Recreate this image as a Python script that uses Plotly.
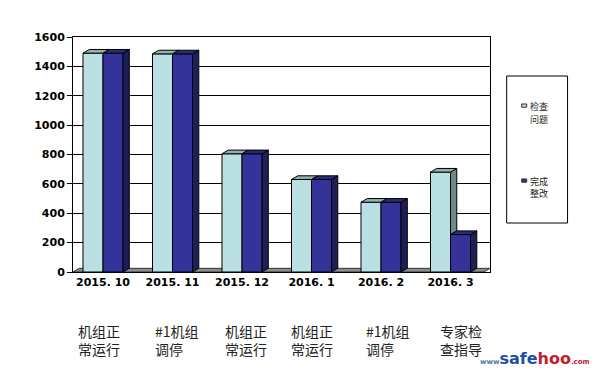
import plotly.graph_objects as go

# ---- data ----
months = ["2015. 10", "2015. 11", "2015. 12", "2016. 1", "2016. 2", "2016. 3"]
notes = ["机组正<br>常运行", "#1机组<br>调停", "机组正<br>常运行", "机组正<br>常运行", "#1机组<br>调停", "专家检<br>查指导"]
found = [1490, 1485, 805, 630, 475, 680]      # 检查问题
fixed = [1490, 1485, 805, 630, 475, 255]      # 完成整改
legend_lines = [["检查", "问题"], ["完成", "整改"]]
y_ticks = [0, 200, 400, 600, 800, 1000, 1200, 1400, 1600]

# ---- style ----
W, DX, DY = 0.288, 0.09, 25
LIGHT, LIGHT_TOP, LIGHT_SIDE = "#BBE0E3", "#95AEAE", "#6E8A8A"
DARK, DARK_TOP, DARK_SIDE = "#333399", "#2A2A7A", "#1E1E5A"
note_shift = [-4, 4, 4, 0, 7, 10]

idx = list(range(len(months)))
fig = go.Figure()

fig.add_trace(go.Bar(x=idx, y=found, name="检查问题", offset=-W, width=W,
                     marker=dict(color=LIGHT, line=dict(color="black", width=1)), showlegend=False))
fig.add_trace(go.Bar(x=idx, y=fixed, name="完成整改", offset=0, width=W,
                     marker=dict(color=DARK, line=dict(color="black", width=1)), showlegend=False))


def poly_trace(xs, ys, color):
    return go.Scatter(x=xs, y=ys, mode="lines", fill="toself", fillcolor=color,
                      line=dict(color="black", width=1), hoverinfo="skip", showlegend=False)


# light bar top faces and visible side faces
lx, ly, sx, sy = [], [], [], []
for i, (a, b) in enumerate(zip(found, fixed)):
    x0, x1 = i - W, i
    lx += [x0, x0 + DX, x1 + DX, x1, x0, None]
    ly += [a, a + DY, a + DY, a, a, None]
    if a > b:
        sx += [x1, x1 + DX, x1 + DX, x1, x1, None]
        sy += [b, b + DY, a + DY, a, b, None]
fig.add_trace(poly_trace(sx, sy, LIGHT_SIDE))
fig.add_trace(poly_trace(lx, ly, LIGHT_TOP))

# dark bar top and side faces
tx, ty, dsx, dsy = [], [], [], []
for i, b in enumerate(fixed):
    x0, x1 = i, i + W
    tx += [x0, x0 + DX, x1 + DX, x1, x0, None]
    ty += [b, b + DY, b + DY, b, b, None]
    dsx += [x1, x1 + DX, x1 + DX, x1, x1, None]
    dsy += [0, DY, b + DY, b, 0, None]
fig.add_trace(poly_trace(dsx, dsy, DARK_SIDE))
fig.add_trace(poly_trace(tx, ty, DARK_TOP))

xr = [-0.432, 5.568]
# floor
fig.add_shape(type="path", xref="x", yref="y", layer="below",
              path=f"M {xr[0]},0 L {xr[1]-DX},0 L {xr[1]},{DY} L {xr[0]+DX},{DY} Z",
              fillcolor="#8C8C8C", line=dict(color="#333333", width=1))

# bottom notes
for i, t in enumerate(notes):
    fig.add_annotation(x=i, y=-0.29, xref="x", yref="paper", text=t, showarrow=False,
                       xshift=note_shift[i], align="left", yanchor="middle",
                       font=dict(family="Noto Sans CJK SC", size=14, color="#222222"))

# legend (drawn manually)
fig.add_shape(type="rect", xref="paper", yref="paper", x0=1.040, x1=1.186, y0=0.2085, y1=0.834,
              line=dict(color="black", width=1), fillcolor="white")
fig.add_shape(type="rect", xref="paper", yref="paper", x0=1.076, x1=1.088, y0=0.701, y1=0.715,
              line=dict(color="#333333", width=1), fillcolor=LIGHT)
fig.add_shape(type="rect", xref="paper", yref="paper", x0=1.076, x1=1.088, y0=0.382, y1=0.396,
              line=dict(color="#333333", width=1), fillcolor=DARK)
for lines, ys in zip(legend_lines, [(0.706, 0.651), (0.387, 0.332)]):
    for txt, yy in zip(lines, ys):
        fig.add_annotation(x=1.092, y=yy, xref="paper", yref="paper", text=txt, showarrow=False,
                           xanchor="left", yanchor="middle", align="left",
                           font=dict(family="Noto Sans CJK SC", size=9, color="#222222"))

# watermark
fig.add_annotation(x=0.971, y=-0.366, xref="paper", yref="paper", showarrow=False,
                   xanchor="left", yanchor="middle",
                   text="<span style='font-size:7px;color:#5577AA'>www</span>"
                        "<span style='color:#1E4FA0'>safe</span>"
                        "<span style='color:#C0202A'>hoo</span>"
                        "<span style='font-size:7px;color:#C0202A'>.com</span>",
                   font=dict(family="DejaVu Sans", size=16, weight="bold"))

fig.update_layout(
    width=589, height=369, autosize=False,
    margin=dict(l=65, r=107, t=29, b=105),
    paper_bgcolor="white", plot_bgcolor="white",
    barmode="overlay", showlegend=False,
    xaxis=dict(range=xr, tickmode="array", tickvals=idx, ticktext=months,
               showgrid=False, zeroline=False, showline=True, linecolor="black", mirror=True,
               ticks="", tickfont=dict(family="DejaVu Sans", size=11, color="black", weight="bold")),
    yaxis=dict(range=[0, 1600], tickmode="array", tickvals=y_ticks,
               showgrid=True, gridcolor="black", gridwidth=1, zeroline=False,
               showline=True, linecolor="black", mirror=True, ticks="outside", ticklen=5,
               tickcolor="black",
               tickfont=dict(family="DejaVu Sans", size=11, color="black", weight="bold")),
)

fig.write_html("out.html")
